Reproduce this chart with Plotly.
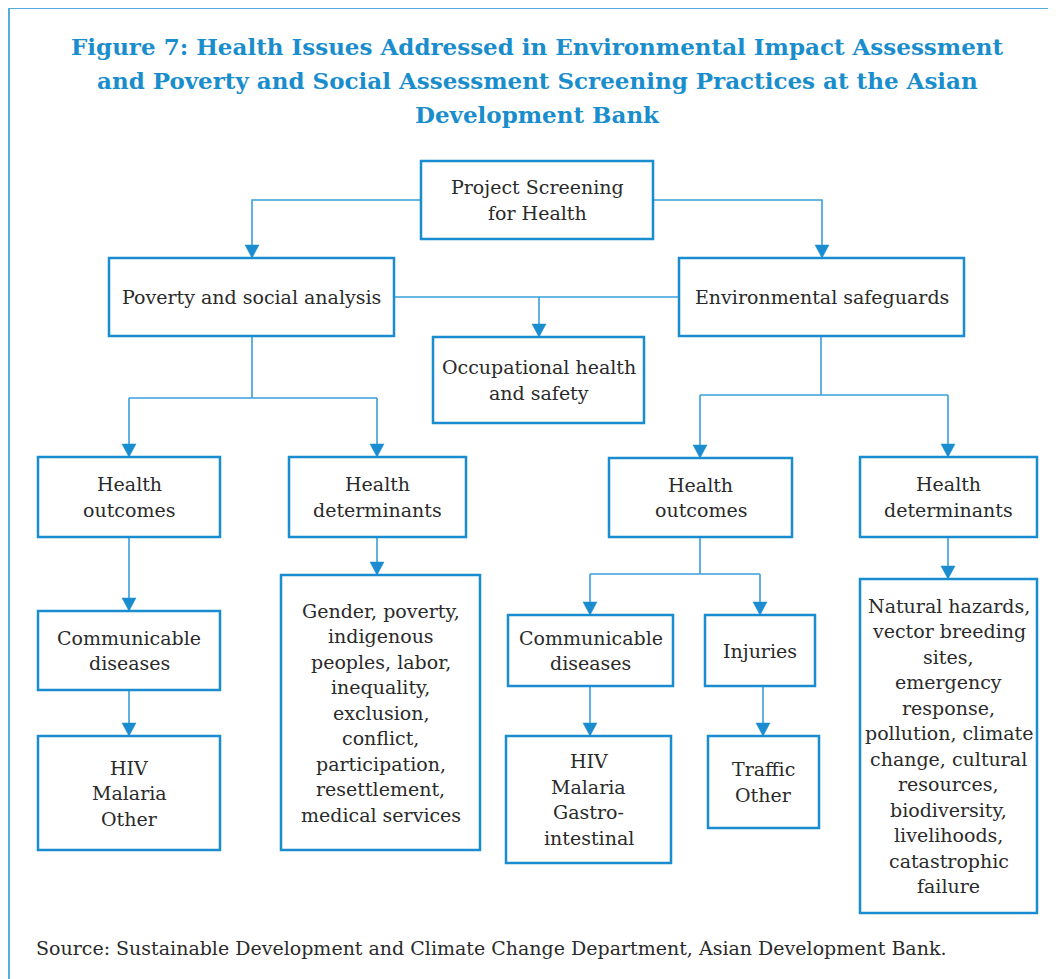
import plotly.graph_objects as go

# ---------------- content ----------------
title_lines = [
    "Figure 7: Health Issues Addressed in Environmental Impact Assessment",
    "and Poverty and Social Assessment Screening Practices at the Asian",
    "Development Bank",
]
source_text = "Source: Sustainable Development and Climate Change Department, Asian Development Bank."

box_labels = [
    "Project Screening\nfor Health",
    "Poverty and social analysis",
    "Environmental safeguards",
    "Occupational health\nand safety",
    "Health\noutcomes",
    "Health\ndeterminants",
    "Health\noutcomes",
    "Health\ndeterminants",
    "Communicable\ndiseases",
    "Gender, poverty,\nindigenous\npeoples, labor,\ninequality,\nexclusion,\nconflict,\nparticipation,\nresettlement,\nmedical services",
    "Communicable\ndiseases",
    "Injuries",
    "Natural hazards,\nvector breeding\nsites,\nemergency\nresponse,\npollution, climate\nchange, cultural\nresources,\nbiodiversity,\nlivelihoods,\ncatastrophic\nfailure",
    "HIV\nMalaria\nOther",
    "HIV\nMalaria\nGastro-\nintestinal",
    "Traffic\nOther",
]

# ---------------- layout (page pixels) ----------------
box_x0 = [421, 109, 679, 433, 38, 289, 609, 860, 38, 281, 508, 705, 860, 38, 506, 708]
box_x1 = [653, 394, 964, 644, 220, 466, 792, 1037, 220, 480, 673, 815, 1037, 220, 671, 819]
box_y0 = [161, 258, 258, 337, 457, 457, 458, 457, 611, 575, 615, 615, 579, 736, 736, 736]
box_y1 = [239, 336, 336, 423, 537, 537, 537, 537, 690, 850, 686, 686, 913, 850, 863, 828]

# connectors: polyline points, last point gets an arrowhead if flag True
connectors = [
    ([(421, 200), (252, 200), (252, 258)], True),
    ([(653, 200), (822, 200), (822, 258)], True),
    ([(394, 297), (679, 297)], False),
    ([(539, 297), (539, 337)], True),
    ([(252, 336), (252, 398)], False),
    ([(129, 398), (129, 457)], True),
    ([(129, 398), (377, 398)], False),
    ([(377, 398), (377, 457)], True),
    ([(821, 336), (821, 395)], False),
    ([(700, 395), (948, 395)], False),
    ([(700, 395), (700, 458)], True),
    ([(948, 395), (948, 457)], True),
    ([(129, 537), (129, 611)], True),
    ([(129, 690), (129, 736)], True),
    ([(377, 537), (377, 575)], True),
    ([(700, 537), (700, 574)], False),
    ([(590, 574), (760, 574)], False),
    ([(590, 574), (590, 615)], True),
    ([(760, 574), (760, 615)], True),
    ([(590, 686), (590, 736)], True),
    ([(763, 686), (763, 736)], True),
    ([(948, 537), (948, 579)], True),
]

BOX_COLOR = "#1a8dd0"
LINE_COLOR = "#3a9fda"
FRAME_COLOR = "#52aee0"
TITLE_COLOR = "#1a8dcc"
TEXT_COLOR = "#2a2a2a"
FONT = "DejaVu Serif"
LINE_H = 25.5

W, H = 1056, 979
OFF = 8  # page body margin: map data coords to page pixels
fig = go.Figure()
shapes = []
annotations = []

# frame
shapes.append(dict(type="line", x0=9, y0=8, x1=W + 20, y1=8, line=dict(color=FRAME_COLOR, width=2), layer="above"))
shapes.append(dict(type="line", x0=9, y0=8, x1=9, y1=H + 20, line=dict(color=FRAME_COLOR, width=2), layer="above"))

# connectors
for pts, arrow in connectors:
    path = "M " + " L ".join(f"{x},{y}" for x, y in pts)
    shapes.append(dict(type="path", path=path, line=dict(color=LINE_COLOR, width=1.6), layer="above"))
    if arrow:
        x, y = pts[-1]
        tri = f"M {x-7},{y-13} L {x+7},{y-13} L {x},{y} Z"
        shapes.append(dict(type="path", path=tri, fillcolor=BOX_COLOR, line=dict(color=BOX_COLOR, width=0.5), layer="above"))

# boxes and texts
for lab, x0, x1, y0, y1 in zip(box_labels, box_x0, box_x1, box_y0, box_y1):
    shapes.append(dict(type="rect", x0=x0, x1=x1, y0=y0, y1=y1,
                       line=dict(color=BOX_COLOR, width=2.5), fillcolor="rgba(0,0,0,0)", layer="above"))
    lines = lab.split("\n")
    cx = (x0 + x1) / 2
    cy = (y0 + y1) / 2
    n = len(lines)
    for i, ln in enumerate(lines):
        yy = cy + (i - (n - 1) / 2) * LINE_H
        annotations.append(dict(x=cx, y=yy, text=ln, showarrow=False, xanchor="center", yanchor="middle",
                                font=dict(family=FONT, size=19, color=TEXT_COLOR)))

# title
title_y = [46, 80, 114]
for t, yy in zip(title_lines, title_y):
    annotations.append(dict(x=537, y=yy, text=f"<b>{t}</b>", showarrow=False, xanchor="center", yanchor="middle",
                            font=dict(family=FONT, size=23, color=TITLE_COLOR)))

# source
annotations.append(dict(x=34, y=948, text=source_text, showarrow=False, xanchor="left", yanchor="middle",
                        font=dict(family=FONT, size=19, color=TEXT_COLOR)))

fig.update_layout(
    width=W, height=H,
    margin=dict(l=0, r=0, t=0, b=0),
    paper_bgcolor="white", plot_bgcolor="white",
    xaxis=dict(range=[OFF, W + OFF], visible=False, fixedrange=True),
    yaxis=dict(range=[H + OFF, OFF], visible=False, fixedrange=True),
    shapes=shapes, annotations=annotations, showlegend=False,
)

fig.write_html("out.html")
